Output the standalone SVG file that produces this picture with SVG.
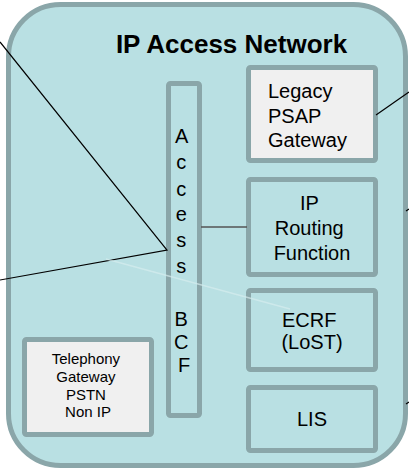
<svg xmlns="http://www.w3.org/2000/svg" width="409" height="471" viewBox="0 0 409 471">
  <style>
    .frame { fill: #b9e0e3; stroke: #8aa6a9; stroke-width: 5; }
    .box { fill: #b9e0e3; stroke: #8aa6a9; stroke-width: 5; }
    .box-light { fill: #f0f0f0; stroke: #8aa6a9; stroke-width: 5; }
    .lbl { font-family: "Liberation Sans", Arial, sans-serif; font-size: 20px; fill: #000; }
    .mid { text-anchor: middle; }
    .small { font-size: 15px; }
    .title { font-family: "Liberation Sans", Arial, sans-serif; font-size: 26px; font-weight: bold; text-anchor: middle; fill: #000; }
    .wire { stroke: #000; stroke-width: 1.2; fill: none; }
  </style>

  <!-- network boundary -->
  <g id="ip-access-network">
    <rect class="frame" x="8.5" y="4.5" width="397" height="461" rx="52" ry="52"/>
    <text class="title" x="231.5" y="53">IP Access Network</text>
  </g>

  <g id="access-bcf">
    <rect class="box" x="168.5" y="83.5" width="31" height="332" rx="2"/>
    <text class="lbl mid">
      <tspan x="184" y="143">A</tspan>
      <tspan x="184" y="169">c</tspan>
      <tspan x="184" y="196">c</tspan>
      <tspan x="184" y="221">e</tspan>
      <tspan x="184" y="247">s</tspan>
      <tspan x="184" y="273">s</tspan>
      <tspan x="184" y="326">B</tspan>
      <tspan x="184" y="349">C</tspan>
      <tspan x="184" y="372">F</tspan>
    </text>
  </g>

  <g id="legacy-psap-gateway">
    <rect class="box-light" x="248.5" y="67.5" width="127" height="93" rx="2"/>
    <text class="lbl">
      <tspan x="268" y="98">Legacy</tspan>
      <tspan x="268" y="123">PSAP</tspan>
      <tspan x="268" y="147">Gateway</tspan>
    </text>
  </g>

  <g id="ip-routing-function">
    <rect class="box" x="248.5" y="179.5" width="127" height="95" rx="2"/>
    <text class="lbl mid">
      <tspan x="312" y="210">IP</tspan>
      <tspan x="312" y="235">Routing</tspan>
      <tspan x="312" y="260">Function</tspan>
    </text>
  </g>

  <g id="ecrf">
    <rect class="box" x="248.5" y="290.5" width="127" height="79" rx="2"/>
    <text class="lbl mid">
      <tspan x="312" y="327">ECRF</tspan>
      <tspan x="312" y="349">(LoST)</tspan>
    </text>
  </g>

  <g id="lis">
    <rect class="box" x="248.5" y="387.5" width="127" height="63" rx="2"/>
    <text class="lbl mid" x="312" y="426">LIS</text>
  </g>

  <g id="telephony-gateway">
    <rect class="box-light" x="24.5" y="339.5" width="127" height="95" rx="2"/>
    <text class="lbl mid small">
      <tspan x="88" y="364">Telephony</tspan>
      <tspan x="88" y="382">Gateway</tspan>
      <tspan x="88" y="400">PSTN</tspan>
      <tspan x="88" y="417">Non IP</tspan>
    </text>
  </g>

  <g id="connectors">
    <polyline class="wire" points="0,42 167,250 0,280"/>
    <line x1="106" y1="259" x2="290" y2="309" stroke="#d6ecee" stroke-width="1.5" stroke-opacity="0.7"/>
    <line x1="201" y1="227" x2="247" y2="227" stroke="#555" stroke-width="1.5"/>
    <line class="wire" x1="376" y1="115" x2="409" y2="92"/>
    <line class="wire" x1="406" y1="211" x2="409" y2="209"/>
    <line class="wire" x1="406" y1="404" x2="409" y2="402"/>
  </g>
</svg>
